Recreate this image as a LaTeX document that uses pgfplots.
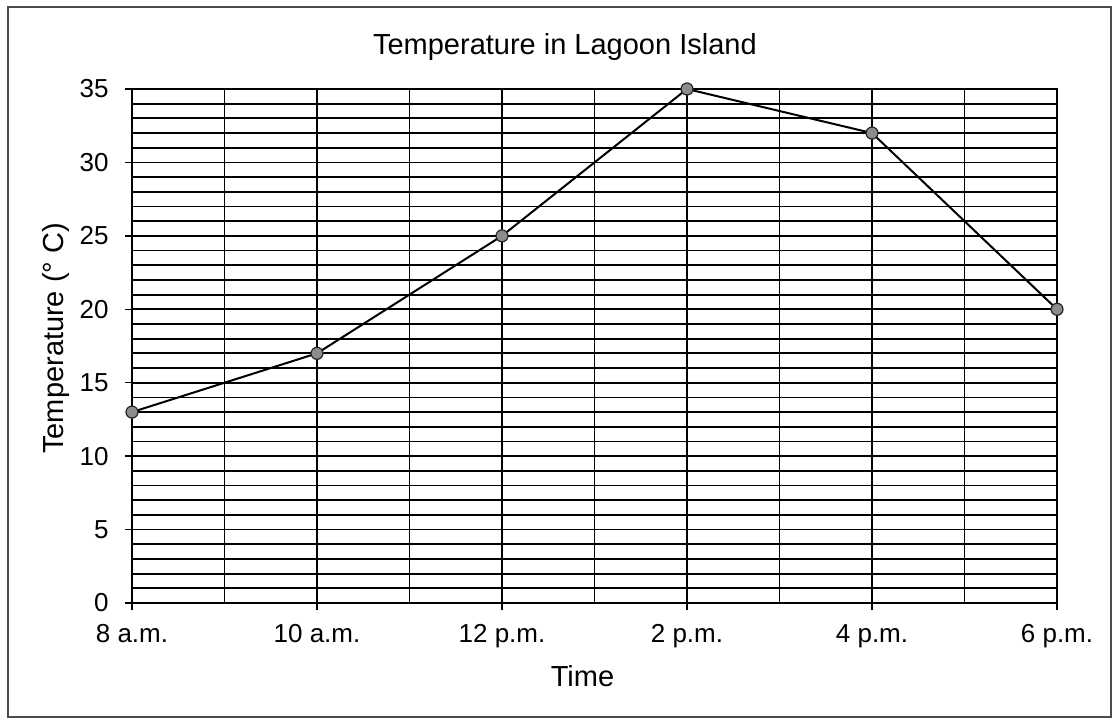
\documentclass[border=0pt]{standalone}
\usepackage{fontspec}
\setmainfont{Liberation Sans}
\usepackage{pgfplots}
\pgfplotsset{compat=1.18}
\begin{document}
\begin{tikzpicture}
\useasboundingbox (0,0) rectangle (556.5pt,360pt);
\draw[line width=0.6pt, black!70] (4pt,1.5pt) rectangle (555.5pt,356.5pt);
\begin{axis}[
  at={(66pt,58.5pt)}, anchor=south west,
  scale only axis, width=462.5pt, height=257pt,
  xmin=0, xmax=10, ymin=0, ymax=35,
  xtick={0,2,4,6,8,10},
  xticklabels={8 a.m.,10 a.m.,12 p.m.,2 p.m.,4 p.m.,6 p.m.},
  extra x ticks={1,3,5,7,9},
  extra x tick labels={},
  extra x tick style={major tick length=0pt, grid=major},
  ytick={0,5,...,35},
  minor y tick num=4,
  grid=both,
  major grid style={black, line width=0.9pt},
  minor grid style={black, line width=0.9pt},
  axis line style={black, line width=0.9pt},
  tick align=outside, tick pos=left,
  major tick length=3.5pt, minor tick length=0pt,
  tick style={black, line width=0.75pt},
  /pgf/number format/assume math mode=true,
  tick label style={font=\fontsize{13}{15}\selectfont, inner sep=0pt},
  xticklabel style={anchor=north, yshift=-7pt},
  yticklabel style={anchor=east, xshift=-8pt},
  title={Temperature in Lagoon Island},
  title style={font=\fontsize{14.5}{16}\selectfont, anchor=base, inner sep=0pt, at={(axis description cs:0.468,1.043)}},
  xlabel={Time},
  xlabel style={font=\fontsize{14.5}{16}\selectfont, anchor=base, inner sep=0pt, at={(axis description cs:0.487,-0.163)}},
  ylabel={Temperature (° C)},
  ylabel style={font=\fontsize{14.5}{16}\selectfont, anchor=base, inner sep=0pt, rotate=0, at={(axis description cs:-0.074,0.515)}},
  clip=false,
]
\addplot[black, line width=1pt, mark=*, mark size=3pt,
  mark options={fill=black!45, draw=black!85, line width=0.6pt}]
  coordinates {(0,13) (2,17) (4,25) (6,35) (8,32) (10,20)};
\end{axis}
\end{tikzpicture}
\end{document}
